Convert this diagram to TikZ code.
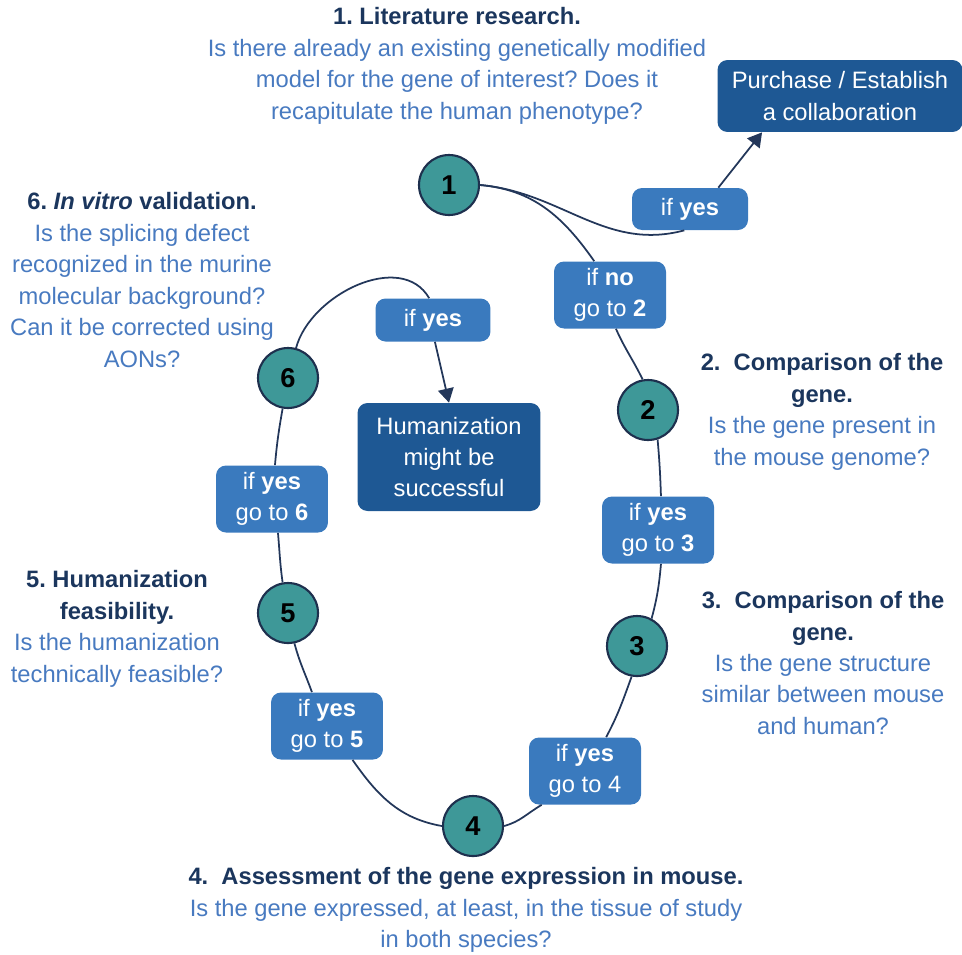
\documentclass[tikz,border=0pt]{standalone}
\usepackage{fontspec}
\setmainfont{Liberation Sans}
\usetikzlibrary{arrows.meta}
\definecolor{navy}{RGB}{27,54,93}
\definecolor{qblue}{RGB}{72,122,192}
\definecolor{boxblue}{RGB}{58,122,190}
\definecolor{darkbox}{RGB}{30,88,148}
\definecolor{stepteal}{RGB}{62,152,152}
\definecolor{rim}{RGB}{30,48,78}
\definecolor{wire}{RGB}{35,55,90}
\frenchspacing
\begin{document}
\begin{tikzpicture}[x=0.02cm,y=-0.02cm,
 stepnum/.style={circle,draw=rim,line width=1.2pt,fill=stepteal,minimum size=1.2cm,inner sep=0pt,
   font=\fontsize{15.5}{18}\selectfont\bfseries},
 ifbox/.style={rounded corners=0.2cm,fill=boxblue,text=white,align=center,inner sep=0pt,
   minimum width=2.24cm,minimum height=1.34cm,font=\fontsize{13.5}{17.9}\selectfont},
 endbox/.style={ifbox,fill=darkbox},
 qtext/.style={text=qblue,align=center,inner sep=0pt,font=\fontsize{13.5}{17.9}\selectfont},
 wire/.style={draw=wire,line width=1pt},
 ]
 \useasboundingbox (0,0) rectangle (962,954);
 % questions
 \node[qtext] (q1) at (457,66) {\textcolor{navy}{\bfseries 1. Literature research.}\\
   Is there already an existing genetically modified\\
   model for the gene of interest? Does it\\
   recapitulate the human phenotype?};
 \node[qtext] (q2) at (822,412) {\textcolor{navy}{\bfseries 2.\ \ Comparison of the}\\
   \textcolor{navy}{\bfseries gene.}\\
   Is the gene present in\\
   the mouse genome?};
 \node[qtext] (q3) at (823,663) {\textcolor{navy}{\bfseries 3.\ \ Comparison of the}\\
   \textcolor{navy}{\bfseries gene.}\\
   Is the gene structure\\
   similar between mouse\\
   and human?};
 \node[qtext] (q4) at (466,910) {\textcolor{navy}{\bfseries 4.\ \ Assessment of the gene expression in mouse.}\\
   Is the gene expressed, at least, in the tissue of study\\
   in both species?};
 \node[qtext] (q5) at (117,629) {\textcolor{navy}{\bfseries 5. Humanization}\\
   \textcolor{navy}{\bfseries feasibility.}\\
   Is the humanization\\
   technically feasible?};
 \node[qtext] (q6) at (142,280) {\textcolor{navy}{\bfseries 6. \emph{In vitro} validation.}\\
   Is the splicing defect\\
   recognized in the murine\\
   molecular background?\\
   Can it be corrected using\\
   AONs?};
 % numbered steps
 \path
 (449,185) node[stepnum] (c1) {1}
 (648,410) node[stepnum] (c2) {2}
 (637,646) node[stepnum] (c3) {3}
 (473,826) node[stepnum] (c4) {4}
 (288,613) node[stepnum] (c5) {5}
 (288,378) node[stepnum] (c6) {6};
 % decisions
 \node[ifbox,minimum width=2.32cm,minimum height=0.84cm] (yesA) at (690,209) {if \textbf{yes}};
 \node[ifbox] (no2) at (610,295) {if \textbf{no}\\go to \textbf{2}};
 \node[ifbox] (yes3) at (658,530) {if \textbf{yes}\\go to \textbf{3}};
 \node[ifbox] (yes4) at (585,771) {if \textbf{yes}\\go to 4};
 \node[ifbox] (yes5) at (327,726) {if \textbf{yes}\\go to \textbf{5}};
 \node[ifbox] (yes6) at (272,499) {if \textbf{yes}\\go to \textbf{6}};
 \node[ifbox,minimum width=2.3cm,minimum height=0.86cm] (yesB) at (433,320) {if \textbf{yes}};
 \node[endbox,minimum width=3.66cm,minimum height=2.16cm] (human) at (449,457) {Humanization\\might be\\successful};
 \node[endbox,minimum width=4.9cm,minimum height=1.44cm] (buy) at (840,96) {Purchase / Establish\\a collaboration};
 % the loop
 \draw[wire] (c1.east) to[out=-5,in=195] (yesA.-105);
 \draw[wire] (c1.east) to[out=-5,in=125] (no2.115);
 \draw[wire] (no2.-80) to[out=-66,in=116] (c2.100);
 \draw[wire] (c2.-72) to[out=-85,in=92] (yes3.85);
 \draw[wire] (yes3.-85) to[out=-95,in=75] (c3.62);
 \draw[wire] (c3.-100) to[out=-110,in=62] (yes4.58);
 \draw[wire] (yes4.-142) to[out=-150,in=15] (c4.east);
 \draw[wire] (c4.west) to[out=170,in=-55] (yes5.-53);
 \draw[wire] (yes5.114) to[out=110,in=-75] (c5.-78);
 \draw[wire] (c5.100) to[out=98,in=-85] (yes6.-80);
 \draw[wire] (yes6.85) to[out=85,in=-100] (c6.-100);
 \draw[wire] (c6.75) to[out=75,in=120] (yesB.100);
 \draw[wire,-{Triangle[width=9pt,length=8pt]}] (yesB.-85) -- (human.north);
 \draw[wire,-{Triangle[width=9pt,length=8pt]}] (yesA.37) -- (buy.-155);
\end{tikzpicture}
\end{document}
